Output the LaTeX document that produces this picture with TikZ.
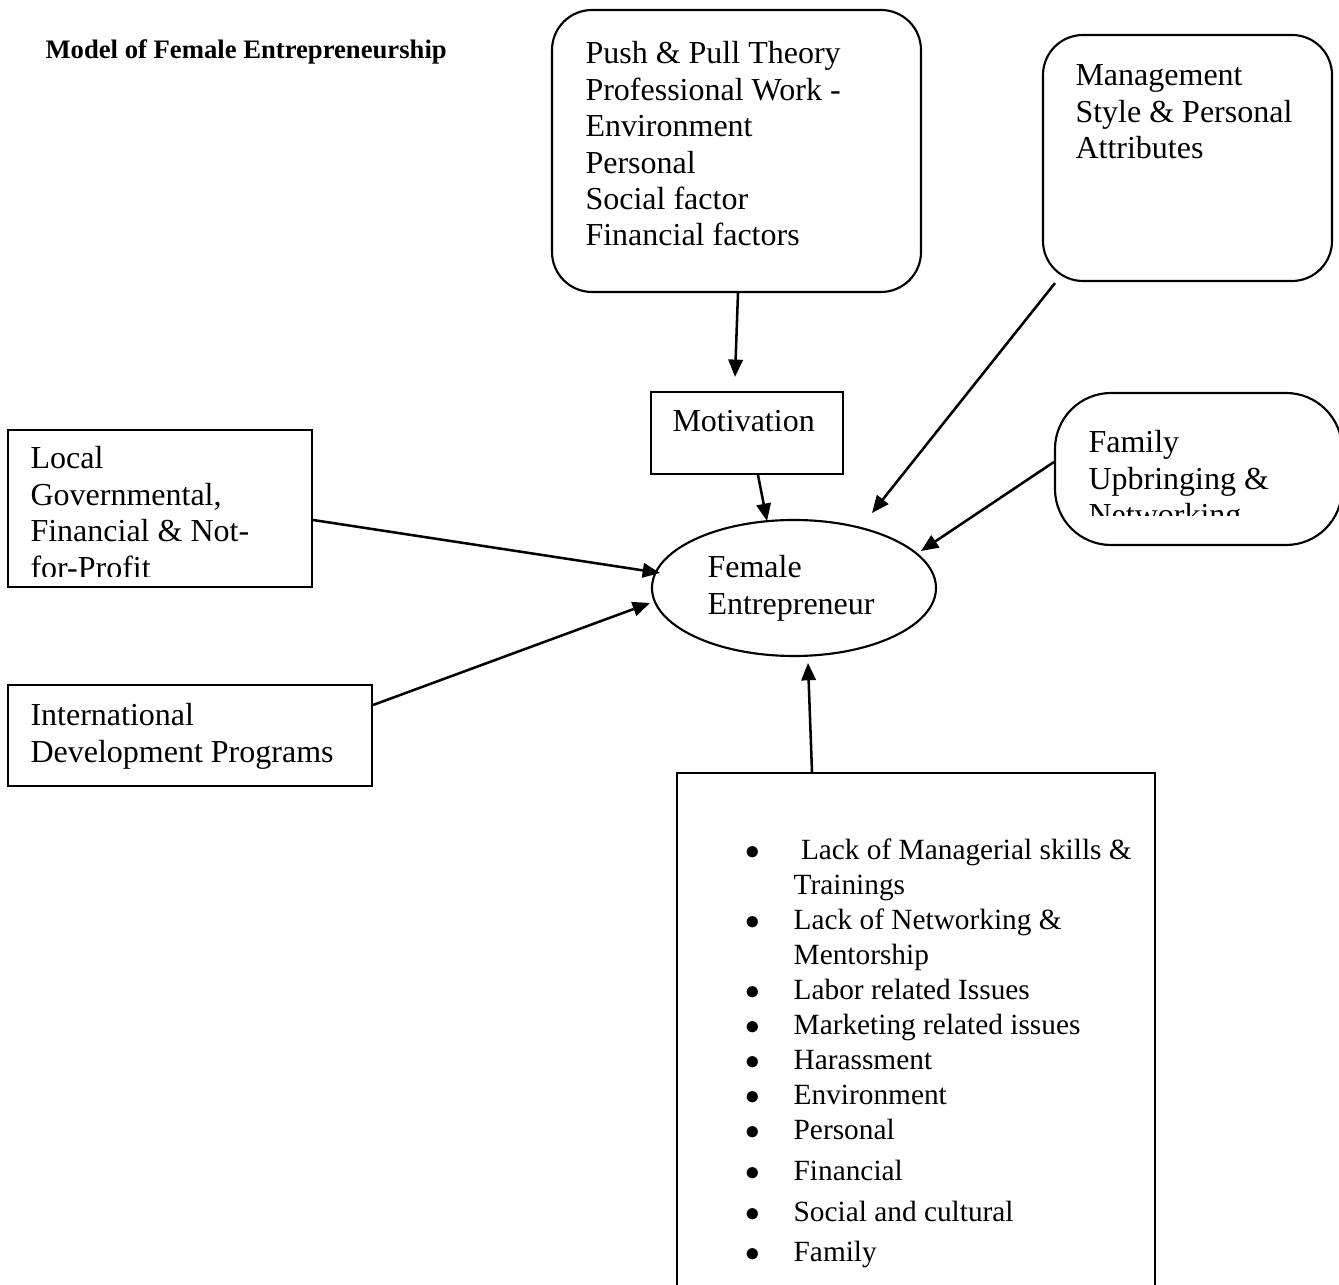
\documentclass[tikz,border=0pt]{standalone}
\usepackage{fontspec}
\setmainfont{Liberation Serif}
\usetikzlibrary{fit,calc,arrows.meta,shapes.geometric}
\newcommand\txtlines[1]{\begin{tabular}[t]{@{}l@{}}#1\end{tabular}}
\newcommand\bul{\makebox[17.3pt][l]{\hspace*{-0.6pt}$\bullet$}}
\tikzset{
  boxline/.style={draw, line width=0.8pt, inner sep=0pt},
  rbox/.style={boxline, rounded corners=15pt},
  txt/.style={anchor=base west, inner sep=0pt, font=\fontsize{12}{13.65}\selectfont, align=left},
  arr/.style={line width=0.95pt, -{Triangle[length=6.5pt,width=5.4pt]}},
}
\begin{document}
\begin{tikzpicture}[x=0.375pt, y=-0.375pt]
\useasboundingbox (0,0) rectangle (1339,1285);

% title
\node[anchor=base west, inner sep=0pt, font=\fontsize{10}{12}\selectfont\bfseries] (title) at (45,59) {Model of Female Entrepreneurship};

% boxes
\node[rbox, fit={(552,10) (921,292)}] (push) {};
\node[rbox, fit={(1043,35) (1332,281)}] (mgmt) {};
\node[boxline, fit={(651,392) (843,474)}] (motiv) {};
\node[boxline, fit={(8,430) (312,587)}] (local) {};
\node[boxline, fit={(8,685) (372,786)}] (intl) {};
\node[boxline, rounded corners=21pt, fit={(1055,393) (1342,545)}] (family) {};
\node[boxline, fit={(677,773) (1155,1300)}] (bottom) {};
\node[boxline, ellipse, minimum width=106.5pt, minimum height=51pt] (fe) at (794,588) {};

% texts
\node[txt] (pushtxt) at (585,64) {\txtlines{Push \& Pull Theory\\Professional Work -\\Environment\\Personal\\Social factor\\Financial factors}};
\node[txt] (mgmttxt) at (1075,86) {\txtlines{Management\\Style \& Personal\\Attributes}};
\node[txt] (motivtxt) at (672,432) {Motivation};
\begin{scope}
  \clip (0,0) rectangle (1339,577);
  \node[txt] (localtxt) at (30,469) {\txtlines{Local\\Governmental,\\Financial \& Not-\\for-Profit}};
\end{scope}
\node[txt] (intltxt) at (30,726) {\txtlines{International\\Development Programs}};
\begin{scope}
  \clip (0,0) rectangle (1339,516);
  \node[txt] (familytxt) at (1088,453) {\txtlines{Family\\Upbringing \&\\Networking}};
\end{scope}
\node[txt] (fetxt) at (707,578) {\txtlines{Female\\Entrepreneur}};
\node[txt, font=\fontsize{11}{13.1}\selectfont] (bottomtxt) at (747,860) {\txtlines{%
\bul\ Lack of Managerial skills \&\\
\hspace*{17.3pt}Trainings\\
\bul Lack of Networking \&\\
\hspace*{17.3pt}Mentorship\\
\bul Labor related Issues\\
\bul Marketing related issues\\
\bul Harassment\\
\bul Environment\\
\bul Personal\\[2.2pt]
\bul Financial\\[2.2pt]
\bul Social and cultural\\[2.2pt]
\bul Family}};

% connectors
\draw[arr] ($(push.south)+(1.5,0)$) -- ($(motiv.north)+(-12,-14)$);
\draw[arr] ($(motiv.south)+(11,0)$) -- ($(fe.center)+(-27,-67)$);
\draw[arr] ($(mgmt.south)+(-132.5,1)$) -- ($(fe.center)+(78,-75)$);
\draw[arr] ($(family.west)+(0,-7)$) -- ($(fe.center)+(127,-37)$);
\draw[arr] ($(local.east)+(0,11.5)$) -- ($(fe.center)+(-134,-15)$);
\draw[arr] ($(intl.east)+(0,-30.5)$) -- ($(fe.center)+(-144,15)$);
\draw[arr] ($(bottom.north)+(-104,0)$) -- ($(fe.center)+(14,75)$);
\end{tikzpicture}
\end{document}
